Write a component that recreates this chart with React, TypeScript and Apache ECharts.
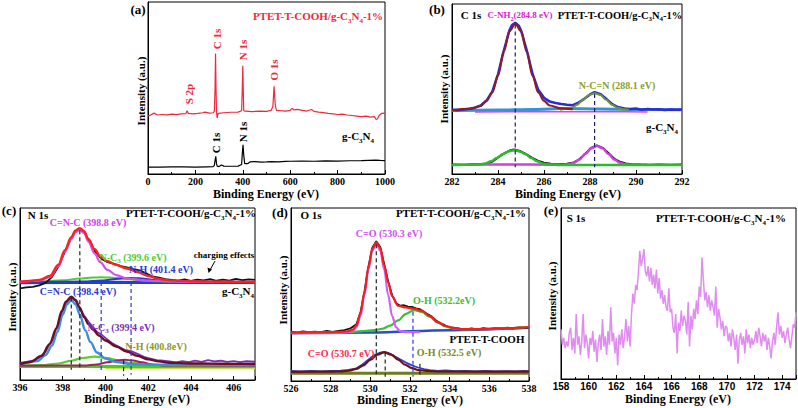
import React, { useEffect, useRef } from 'react';
import * as echarts from 'echarts';

const SERIF = '"Liberation Serif", "Times New Roman", serif';
const SANS = '"Liberation Sans", Arial, sans-serif';

// ---------- (a) survey ----------
const A_RED: [number, number][] = [[0,33.7],[10,34.2],[25,35.4],[40,34.3],[60,34.6],[80,34.4],[100,34.8],[120,34.5],[140,35.0],[160,35.1],[165,36.8],[170,35.2],[190,35.0],[210,35.2],[230,35.6],[240,36.0],[260,35.4],[275,35.6],[280,36.5],[283,50],[285,70],[287,50],[289,36],[292,32.6],[296,35.2],[320,35.6],[350,35.9],[380,36.0],[395,36.8],[398,50],[400,63],[402,48],[404,36.8],[410,36.5],[440,36.3],[470,36.6],[500,36.4],[520,37.0],[527,39.5],[532,51],[537,40],[542,37],[560,36.8],[580,36.6],[600,37.0],[608,38.2],[615,37.3],[630,37.6],[650,37.0],[670,36.6],[690,37.5],[700,36.4],[720,36.0],[740,35.7],[760,35.3],[780,35.0],[800,34.6],[820,34.8],[840,34.3],[860,34.0],[880,33.7],[900,33.4],[920,33.6],[940,33.1],[955,33.4],[962,31.8],[968,32.0],[975,34.0],[985,35.2],[1000,35.4]];
const A_BLACK: [number, number][] = [[0,4.0],[50,4.0],[100,4.2],[150,4.1],[200,4.0],[250,4.2],[275,4.3],[280,5.0],[283,8],[286,10.3],[289,6],[292,4.6],[300,4.3],[310,5.2],[320,4.6],[350,4.5],[380,4.6],[395,5.5],[398,12],[401,17],[404,11],[408,6],[420,6.0],[430,7.0],[450,7.2],[480,6.9],[500,7.0],[520,7.2],[550,7.1],[580,7.3],[600,7.4],[650,7.5],[700,7.4],[750,7.6],[800,7.5],[850,7.7],[900,7.8],[960,8.1],[980,7.9],[1000,7.8]];

// ---------- (b) C 1s ----------
const B_UP_RAW: [number, number][] = [[282,37.8],[282.25,37.5],[282.5,37.9],[282.75,38.4],[283,39.0],[283.25,40.3],[283.5,43.2],[283.75,48.5],[284,58.6],[284.25,72.5],[284.5,84.6],[284.6,87.5],[284.75,89.0],[284.9,87.3],[285,84.5],[285.25,72.8],[285.5,59.0],[285.75,49.5],[286,44.8],[286.25,42.6],[286.5,41.8],[286.75,41.2],[287,40.8],[287.25,40.5],[287.5,42.0],[287.75,44.2],[288,46.8],[288.2,48.2],[288.45,47.0],[288.7,44.3],[288.95,41.2],[289.2,39.4],[289.5,38.5],[289.75,38.2],[290,38.5],[290.25,37.8],[290.5,38.3],[290.75,37.9],[291,38.1],[291.25,37.7],[291.5,38.0],[291.75,37.8],[292,37.9]];
const B_UP_FIT: [number, number][] = [[282,37.6],[282.75,38.3],[283.25,40.0],[283.5,43.0],[283.75,48.0],[284,58.0],[284.25,72.0],[284.5,84.0],[284.75,88.5],[285,84.0],[285.25,72.0],[285.5,58.0],[285.75,48.0],[286,43.0],[286.25,40.3],[286.75,38.6],[287.25,38.2]];
const B_UP_NCN: [number, number][] = [[286.7,37.8],[287.2,39.0],[287.45,40.8],[287.7,43.7],[287.95,46.4],[288.2,47.5],[288.45,46.4],[288.7,43.7],[288.95,40.8],[289.2,39.0],[289.45,38.1],[289.7,37.8]];
const B_UP_BASE: [number, number][] = [[282,37.4],[284,37.6],[285.5,38.0],[287,38.5],[288.5,38.2],[290,37.9],[292,37.8]];
const B_UP_BASE2: [number, number][] = [[283,36.5],[286,36.6],[289,36.6],[290.5,36.5]];
const B_LO_RAW: [number, number][] = [[282,5.6],[282.5,5.4],[283,5.7],[283.5,6.0],[283.75,7.3],[284,9.8],[284.25,12.0],[284.5,13.8],[284.7,14.4],[284.95,13.6],[285.2,11.9],[285.45,9.8],[285.7,8.0],[286,6.6],[286.3,6.1],[286.6,5.8],[287,6.0],[287.3,6.8],[287.55,8.8],[287.8,12.0],[288.05,15.3],[288.3,16.8],[288.55,15.4],[288.8,12.3],[289.05,9.0],[289.3,7.2],[289.55,6.2],[289.8,5.8],[290.2,5.6],[290.6,5.5],[291,5.6],[291.5,5.4],[292,5.6]];
const B_LO_CN: [number, number][] = [[282,5.3],[283.2,5.6],[283.45,6.2],[283.7,7.5],[283.95,9.4],[284.2,11.6],[284.45,13.3],[284.7,14.0],[284.95,13.3],[285.2,11.6],[285.45,9.4],[285.7,7.5],[285.95,6.2],[286.2,5.6],[286.7,5.35],[292,5.3]];
const B_LO_NCN: [number, number][] = [[283,5.6],[286.8,5.5],[287.05,5.7],[287.3,6.6],[287.55,8.6],[287.8,11.8],[288.05,15.1],[288.3,16.5],[288.55,15.1],[288.8,11.8],[289.05,8.6],[289.3,6.6],[289.55,5.7],[289.8,5.5],[290.5,5.4]];
const B_DASH: [number, number, number][] = [[284.75, 88, 4], [288.2, 47, 4]];

// ---------- (c) N 1s ----------
const C_UP_RAW: [number, number][] = [[396,53.3],[396.3,53.8],[396.6,54.2],[396.9,55.0],[397.2,56.5],[397.5,60.0],[397.8,66.0],[398.1,74.5],[398.4,82.5],[398.6,86.5],[398.8,87.8],[399.0,86.0],[399.2,81.5],[399.5,75.0],[399.8,70.5],[400.1,68.5],[400.4,67.5],[400.7,66.2],[401.0,65.5],[401.3,64.5],[401.6,63.8],[401.9,62.0],[402.2,60.2],[402.5,59.5],[402.8,58.6],[403.1,58.2],[403.4,57.8],[403.7,58.5],[404.0,57.6],[404.3,58.3],[404.6,57.9],[404.9,58.6],[405.2,57.7],[405.5,58.4],[405.8,57.8],[406.1,58.8],[406.4,58.0],[406.7,58.5],[407,58.2]];
const C_UP_FIT: [number, number][] = [[396,57.2],[396.5,57.6],[396.9,58.2],[397.4,60.5],[397.8,67],[398.1,75.5],[398.4,83],[398.6,87],[398.8,88.3],[399.0,86.5],[399.2,82],[399.5,76],[399.75,72],[400.1,69],[400.5,67],[401,64.8],[401.5,62.8],[402,60.5],[402.5,58.8],[403,57.9],[404,57.4],[405,57.2],[406,57.1],[407,57.0]];
const C_UP_CNC: [number, number][] = [[396,57.0],[396.9,57.8],[397.4,59.8],[397.8,66],[398.1,74.5],[398.4,82],[398.6,86],[398.8,87.3],[399.0,85.5],[399.2,80.5],[399.5,73.5],[399.75,68.5],[400.1,64],[400.5,61],[401,59],[402,57.8],[403,57.3],[404,57.1],[407,57.0]];
const C_UP_NC3: [number, number][] = [[396,57.0],[397,57.3],[398,58.0],[398.8,59.0],[399.4,59.6],[399.8,59.7],[400.2,59.6],[400.8,59.0],[401.6,58.0],[402.5,57.4],[403.5,57.1],[407,57.0]];
const C_UP_NH: [number, number][] = [[396,57.0],[399,57.2],[399.8,57.8],[400.4,58.6],[400.8,59.1],[401.2,59.3],[401.6,59.1],[402.0,58.6],[402.6,57.8],[403.4,57.2],[407,57.0]];
const C_UP_BASE: [number, number][] = [[396,56.6],[400,56.8],[404,56.7],[407,56.7]];
const C_LO_RAW: [number, number][] = [[396,10.0],[396.3,10.5],[396.6,11.2],[396.9,13.0],[397.2,16.5],[397.5,23.5],[397.8,33.0],[398.0,40.5],[398.2,45.5],[398.4,47.8],[398.6,46.0],[398.8,41.5],[399.0,37.5],[399.2,34.0],[399.4,31.0],[399.6,28.0],[399.8,26.5],[400.0,24.5],[400.3,21.5],[400.6,19.5],[400.9,17.5],[401.2,16.8],[401.5,15.2],[401.8,13.5],[402.1,12.5],[402.4,11.5],[402.7,11.2],[403.0,10.8],[403.3,10.2],[403.6,10.9],[403.9,10.4],[404.2,11.3],[404.5,10.6],[404.8,11.5],[405.1,10.8],[405.4,11.2],[405.7,10.5],[406.0,11.0],[406.3,10.4],[406.6,10.9],[407,10.6]];
const C_LO_FIT: [number, number][] = [[396,9.3],[396.5,10.5],[397,14.0],[397.4,21.0],[397.7,30],[397.95,40],[398.15,45.5],[398.4,48.5],[398.6,46.5],[398.8,42],[399.0,36.5],[399.2,32.5],[399.4,29.5],[399.7,25.8],[400.0,23.0],[400.5,19.5],[401.0,16.5],[401.5,14.0],[402.0,12.0],[402.5,10.8],[403.0,10.0],[404,9.6],[405,9.5],[406,9.4],[407,9.3]];
const C_LO_CNC: [number, number][] = [[396,9.0],[396.8,11.0],[397.2,14.5],[397.5,20],[397.75,28],[398.0,38],[398.2,44],[398.4,46.5],[398.6,44],[398.8,38],[399.05,29],[399.3,22],[399.6,16],[400.0,12.5],[400.5,10.5],[401.2,9.3],[402,8.9],[407,8.6]];
const C_LO_NC3: [number, number][] = [[396,8.3],[397,8.6],[397.8,9.6],[398.4,11.2],[398.9,12.8],[399.5,13.6],[400.1,12.8],[400.6,11.4],[401.2,9.9],[402,8.8],[403,8.4],[407,8.3]];
const C_LO_NH: [number, number][] = [[396,8.3],[399,8.4],[399.6,9.0],[400.1,10.3],[400.5,11.3],[400.9,11.8],[401.3,11.3],[401.7,10.3],[402.2,9.0],[402.8,8.4],[407,8.3]];
const C_LO_BASE: [number, number][] = [[396,7.8],[407,7.8]];
const C_LO_BASE2: [number, number][] = [[400,7.0],[407,7.0]];
const C_DASH: [number, number, number][] = [[398.8, 87, 6], [398.4, 48, 6], [399.8, 57, 5], [401.2, 57, 3], [400.85, 11.5, 2.5]];

// ---------- (d) O 1s ----------
const D_UP_RAW: [number, number][] = [[526,28.5],[526.3,28.1],[526.6,28.7],[526.9,28.2],[527.2,28.6],[527.5,28.3],[527.8,28.9],[528.1,28.4],[528.4,29.0],[528.7,29.4],[529.0,30.5],[529.3,32.8],[529.5,39.5],[529.7,51.5],[529.9,66],[530.1,77],[530.3,80.8],[530.5,77.5],[530.7,67.5],[530.9,57.5],[531.1,49.5],[531.3,45.0],[531.5,43.5],[531.7,43.8],[531.9,43.0],[532.1,42.8],[532.3,42.0],[532.5,41.5],[532.7,40.0],[532.9,38.5],[533.1,37.2],[533.3,35.2],[533.5,33.5],[533.7,32.6],[533.9,31.2],[534.2,30.8],[534.5,30.2],[534.8,29.8],[535.1,30.4],[535.4,29.9],[535.7,30.5],[536.0,30.1],[536.3,30.6],[536.6,30.2],[536.9,30.8],[537.2,30.5],[537.5,31.0],[537.8,30.7],[538,31.2]];
const D_UP_FIT: [number, number][] = [[526,27.9],[528,28.1],[528.8,28.6],[529.1,29.6],[529.3,32.2],[529.5,39],[529.7,51],[529.9,65.5],[530.1,76.5],[530.3,80.2],[530.5,77.0],[530.7,67.0],[530.9,57.0],[531.1,49.0],[531.4,43.5],[531.8,42.5],[532.2,41.8],[532.6,40.5],[533.0,37.5],[533.4,34.0],[533.8,31.8],[534.2,30.6],[534.7,30.0],[535.5,30.0],[537,30.6],[538,31.2]];
const D_UP_CO: [number, number][] = [[526,27.9],[528.5,28.0],[528.8,28.1],[529.1,28.8],[529.3,31.0],[529.5,37.5],[529.7,49.6],[529.9,64.4],[530.1,75.4],[530.3,79.5],[530.5,75.4],[530.7,64.4],[530.9,49.6],[531.1,37.5],[531.3,31.0],[531.5,28.8],[531.8,28.2],[532.5,28.3]];
const D_UP_OH: [number, number][] = [[526,27.8],[528,28.0],[529.2,28.4],[529.7,28.9],[530.2,29.4],[530.6,30.2],[531.0,32.0],[531.4,35.0],[531.8,38.8],[532.2,41.0],[532.6,40.0],[533.0,37.0],[533.4,33.8],[533.8,31.5],[534.2,30.3],[534.7,29.8],[535.5,29.9],[537,30.6],[538,31.2]];
const D_UP_BASE: [number, number][] = [[526,27.6],[530,28.0],[534,29.4],[538,30.8]];
const D_LO_RAW: [number, number][] = [[526,5.8],[526.5,5.5],[527,5.9],[527.5,5.6],[528,5.8],[528.5,6.0],[528.9,6.4],[529.3,7.3],[529.6,9.5],[529.9,12.3],[530.2,15.0],[530.5,16.4],[530.7,16.9],[530.9,16.3],[531.2,14.5],[531.5,12.5],[531.8,10.6],[532.1,9.0],[532.4,7.8],[532.7,6.8],[533.0,6.3],[533.4,5.9],[533.8,6.1],[534.3,5.7],[534.8,5.9],[535.3,5.6],[535.8,5.8],[536.3,5.5],[536.8,5.7],[537.3,5.6],[537.8,5.8],[538,5.6]];
const D_LO_FIT: [number, number][] = [[526,5.3],[528,5.4],[528.6,5.6],[528.95,6.0],[529.3,7.0],[529.65,9.0],[530.0,12.2],[530.35,15.3],[530.7,16.6],[531.05,15.3],[531.4,12.4],[531.75,9.4],[532.1,7.4],[532.45,6.3],[532.8,5.8],[533.5,5.5],[538,5.4]];
const D_LO_BASE: [number, number][] = [[526,4.5],[538,4.5]];
const D_DASH: [number, number, number][] = [[530.3, 79, 2.5], [532.15, 40, 2.5], [530.75, 16.5, 2.5], [532.5, 10, 2.5]];

// ---------- (e) S 1s (0.1 eV steps from 158 eV) ----------
const E_START = 158;
const E_STEP = 0.1;
const E_Y: number[] = [
  29, 20, 24, 18, 22, 19, 27, 30, 17, 24,
  15, 38, 20, 25, 14, 22, 38, 18, 26, 21,
  12, 24, 20, 28, 16, 23, 10, 21, 26, 17,
  35, 19, 25, 14, 28, 20, 42, 22, 27, 15,
  24, 8, 26, 20, 29, 18, 25, 35, 22, 31,
  19, 38, 50, 44, 55, 52, 62, 75, 66, 70,
  76, 63, 60, 66, 57, 65, 55, 61, 53, 64,
  50, 59, 47, 52, 44, 49, 42, 40, 53, 39,
  41, 30, 27, 38, 15, 33, 28, 40, 31, 37,
  34, 26, 45, 19, 37, 29, 41, 35, 46, 38,
  54, 48, 71, 58, 46, 51, 42, 49, 40, 46,
  42, 37, 54, 30, 41, 36, 29, 34, 25, 31,
  30, 22, 27, 19, 29, 24, 17, 26, 9, 23,
  27, 20, 25, 15, 29, 21, 26, 18, 24, 20,
  23, 28, 21, 30, 25, 19, 27, 22, 26, 17,
  24, 19, 12, 22, 27, 20, 31, 39, 26, 31,
  24, 28, 21, 26, 30, 23, 18, 25, 32, 30,
  39,
];

const X_TITLE = 'Binding Energy (eV)';
const Y_TITLE = 'Intensity (a.u.)';

const line = (gi: number, data: [number, number][], color: string, width: number, smooth = false, z = 2) => ({
  type: 'line', xAxisIndex: gi, yAxisIndex: gi, data, symbol: 'none', smooth: smooth ? 0.35 : false,
  smoothMonotone: smooth ? 'x' : undefined,
  lineStyle: { color, width }, silent: true, z,
});
const dash = (gi: number, d: [number, number, number], color: string) => ({
  type: 'line', xAxisIndex: gi, yAxisIndex: gi, data: [[d[0], d[1]], [d[0], d[2]]], symbol: 'none',
  lineStyle: { color, width: 1.2, type: [4, 3] }, silent: true, z: 5,
});

const txt = (text: string, x: number, y: number, color = '#000', size = 11, rot = 0, family = SERIF) => ({
  type: 'text', x, y, rotation: rot, silent: true, z: 100,
  style: {
    text, fill: color, fontFamily: family, fontWeight: 'bold', fontSize: size,
    align: 'center', verticalAlign: 'middle', lineHeight: size + 5,
    rich: {
      s: { fontFamily: family, fontWeight: 'bold', fontSize: Math.round(size * 0.65), fill: color, verticalAlign: 'bottom', lineHeight: Math.round(size * 0.65) },
    },
  },
});

export default function App() {
  const ref = useRef<HTMLDivElement>(null);
  useEffect(() => {
    if (!ref.current) return;
    const chart = echarts.init(ref.current, null, { renderer: 'svg' });
    const grids = [
      { left: 148, top: 2, width: 237, height: 172 },
      { left: 452, top: 4, width: 230, height: 170 },
      { left: 20, top: 208, width: 235, height: 172 },
      { left: 291, top: 208, width: 238, height: 173 },
      { left: 561, top: 208, width: 235, height: 171 },
    ].map((g) => ({ ...g, show: true, borderColor: '#000', borderWidth: 1, backgroundColor: 'transparent' }));
    const xr = [
      { min: 0, max: 1000, interval: 200, fam: SERIF, showMax: true, size: 10 },
      { min: 282, max: 292, interval: 2, fam: SERIF, showMax: true, size: 10 },
      { min: 396, max: 407, interval: 2, fam: SERIF, showMax: false, size: 10 },
      { min: 526, max: 538, interval: 2, fam: SERIF, showMax: true, size: 10 },
      { min: 158, max: 175, interval: 2, fam: SANS, showMax: false, size: 10 },
    ];
    const xAxis = xr.map((r, i) => ({
      type: 'value', gridIndex: i, min: r.min, max: r.max, interval: r.interval,
      axisLine: { show: true, onZero: false, lineStyle: { color: '#000', width: 1 } },
      axisTick: { show: true, inside: true, length: 4, lineStyle: { color: '#000' } },
      minorTick: { show: true, splitNumber: 2, length: 2, lineStyle: { color: '#000' } },
      axisLabel: {
        fontFamily: r.fam, fontWeight: 'bold', fontSize: r.size, color: '#000', margin: 2,
        showMaxLabel: r.showMax, formatter: (v: number) => String(v),
      },
      splitLine: { show: false },
    }));
    const yAxis = grids.map((_, i) => ({
      type: 'value', gridIndex: i, min: 0, max: 100,
      axisLine: { show: true, onZero: false, lineStyle: { color: '#000', width: 1 } },
      axisTick: { show: false }, axisLabel: { show: false }, splitLine: { show: false },
    }));

    const eData: [number, number][] = E_Y.map((v, i) => [E_START + i * E_STEP, v]);

    const series: any[] = [
      // (a)
      line(0, A_RED, '#f0283c', 1.2),
      line(0, A_BLACK, '#000000', 1.2),
      // (b)
      line(1, B_UP_BASE2, '#e040e0', 1.5, true),
      line(1, B_UP_BASE, '#3b8fd8', 3, true),
      line(1, B_UP_RAW, '#2b2bd9', 2.5),
      line(1, B_UP_NCN, '#6b9a2a', 2, true),
      line(1, B_UP_FIT, '#8b1c2c', 2.2, true),
      line(1, B_LO_RAW, '#111111', 2),
      line(1, B_LO_NCN, '#d040e0', 2.5, true),
      line(1, B_LO_CN, '#2db82d', 2.5, true),
      ...B_DASH.map((d) => dash(1, d, '#1c1c6c')),
      // (c)
      line(2, C_UP_BASE, '#1f3fd0', 3, true),
      line(2, C_UP_NC3, '#4cd02a', 2, true),
      line(2, C_UP_NH, '#2a3ad0', 2, true),
      line(2, C_UP_RAW, '#111111', 1.8),
      line(2, C_UP_CNC, '#d050f0', 2.2, true),
      line(2, C_UP_FIT, '#ff2020', 2.4, true),
      line(2, C_LO_BASE2, '#c8e040', 2.5),
      line(2, C_LO_BASE, '#40d020', 3),
      line(2, C_LO_NC3, '#5ad030', 2.2, true),
      line(2, C_LO_NH, '#a02060', 2, true),
      line(2, C_LO_RAW, '#7b2fb8', 1.8),
      line(2, C_LO_CNC, '#3c8ee0', 2.4, true),
      line(2, C_LO_FIT, '#6a1020', 2.4, true),
      ...C_DASH.map((d, i) => dash(2, d, i === 2 || i === 3 ? '#2a3ad0' : '#222222')),
      // (d)
      line(3, D_UP_BASE, '#2a4cc8', 2.5, true),
      line(3, D_UP_RAW, '#111111', 1.8),
      line(3, D_UP_OH, '#38c030', 2.2, true),
      line(3, D_UP_CO, '#d060f0', 2.2, true),
      line(3, D_UP_FIT, '#ff1a1a', 2.2, true),
      line(3, D_LO_BASE, '#6b7d1e', 3),
      line(3, D_LO_RAW, '#3040d0', 1.8),
      line(3, D_LO_FIT, '#701010', 2.2, true),
      ...D_DASH.map((d, i) => dash(3, d, i === 1 ? '#2a3ad0' : '#222222')),
      // (e)
      line(4, eData, '#e08cf0', 1.5),
    ];

    const SUB = 'C{s|3}N{s|4}';
    const R90 = Math.PI / 2;
    const graphic: any[] = [
      // axis titles
      txt(X_TITLE, 266, 194, '#000', 12),
      txt(X_TITLE, 568, 194, '#000', 12),
      txt(X_TITLE, 137, 399, '#000', 12),
      txt(X_TITLE, 410, 400, '#000', 12),
      txt(X_TITLE, 678, 399, '#000', 12),
      txt(Y_TITLE, 141, 91, '#000', 11, R90),
      txt(Y_TITLE, 444, 89, '#000', 11, R90),
      txt(Y_TITLE, 12, 297, '#000', 11, R90),
      txt(Y_TITLE, 283, 290, '#000', 11, R90),
      txt(Y_TITLE, 552, 296, '#000', 11, R90),
      // (a)
      txt('(a)', 138, 9, '#000', 13),
      txt('PTET-T-COOH/g-' + SUB + '-1%', 318, 16, '#f0283c', 11),
      txt('S 2p', 189, 94, '#f0283c', 11, R90),
      txt('C 1s', 216.5, 39, '#f0283c', 11, R90),
      txt('N 1s', 243, 50, '#f0283c', 11, R90),
      txt('O 1s', 274, 70, '#f0283c', 11, R90),
      txt('C 1s', 216, 143, '#000', 11, R90),
      txt('N 1s', 243, 132, '#000', 11, R90),
      txt('g-' + SUB, 358, 136, '#000', 11),
      // (b)
      txt('(b)', 437, 9, '#000', 13),
      txt('C 1s', 471, 15, '#000', 11),
      txt('C-NH{s|2}(284.8 eV)', 520, 15, '#e020d0', 9),
      txt('PTET-T-COOH/g-' + SUB + '-1%', 620, 15, '#000', 10.5),
      txt('N-C=N (288.1 eV)', 617, 85, '#8aa02a', 10),
      txt('g-' + SUB, 662, 127, '#000', 11),
      // (c)
      txt('(c)', 9, 210, '#000', 13),
      txt('N 1s', 38, 215, '#000', 11),
      txt('C=N-C (398.8 eV)', 88, 222, '#d040f0', 10),
      txt('PTET-T-COOH/g-' + SUB + '-1%', 191, 213, '#000', 11),
      txt('N-C{s|3} (399.6 eV)', 133, 257, '#4cd02a', 10),
      txt('charging effects', 224, 255, '#000', 9),
      txt('N-H (401.4 eV)', 161, 269, '#2a3ad0', 10),
      txt('g-' + SUB, 238, 291, '#000', 11),
      txt('C=N-C (398.4 eV)', 78, 291, '#2a3ad0', 10),
      txt('N-C{s|3} (399.4 eV)', 121, 327, '#7b2fb8', 10),
      txt('N-H (400.8eV)', 156, 346, '#8a9a2a', 10),
      { type: 'line', silent: true, z: 100, shape: { x1: 215, y1: 261, x2: 210, y2: 270 }, style: { stroke: '#000', lineWidth: 1 } },
      { type: 'polygon', silent: true, z: 100, shape: { points: [[208.5, 273], [207.5, 267.5], [212, 269.5]] }, style: { fill: '#000' } },
      // (d)
      txt('(d)', 280, 212, '#000', 13),
      txt('O 1s', 311, 215, '#000', 11),
      txt('PTET-T-COOH/g-' + SUB + '-1%', 461, 213, '#000', 11),
      txt('C=O (530.3 eV)', 389, 233, '#d050f0', 10),
      txt('O-H (532.2eV)', 444, 300, '#38c030', 10),
      txt('PTET-T-COOH', 487, 339, '#000', 11),
      txt('C=O (530.7 eV)', 341, 353, '#ff2a50', 10),
      txt('O-H (532.5 eV)', 449, 352, '#7a8a20', 10),
      // (e)
      txt('(e)', 551, 210, '#000', 13),
      txt('S 1s', 576, 218, '#000', 11),
      txt('PTET-T-COOH/g-' + SUB + '-1%', 721, 218, '#000', 11),
    ];

    chart.setOption({
      animation: false,
      backgroundColor: '#ffffff',
      grid: grids,
      xAxis,
      yAxis,
      series,
      graphic,
    });
    return () => chart.dispose();
  }, []);
  return <div ref={ref} style={{ position: 'fixed', left: 0, top: 0, width: 798, height: 408 }} />;
}
